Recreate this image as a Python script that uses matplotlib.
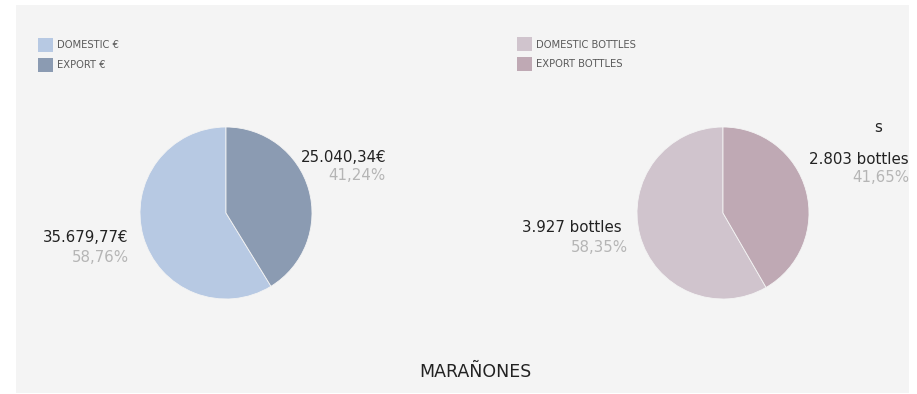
import matplotlib
matplotlib.use("Agg")
import matplotlib.pyplot as plt
from matplotlib.patches import Rectangle

plt.rcParams['font.family'] = ['DejaVu Sans']

# data
euro_labels = ["DOMESTIC €", "EXPORT €"]
euro_values = [35679.77, 25040.34]
euro_text = ["35.679,77€", "25.040,34€"]
euro_pct = ["58,76%", "41,24%"]
euro_colors = ["#b7c9e3", "#8b9bb2"]

bottle_labels = ["DOMESTIC BOTTLES", "EXPORT BOTTLES"]
bottle_values = [3927, 2803]
bottle_text = ["3.927 bottles", "2.803 bottles"]
bottle_pct = ["58,35%", "41,65%"]
bottle_colors = ["#d0c4cd", "#bfa9b4"]

title = "MARAÑONES"

W, H = 917, 394
fig = plt.figure(figsize=(W / 100, H / 100), dpi=100)
fig.patch.set_facecolor("white")


def px(x, y):
    # pixel (from top-left) -> figure fraction
    return x / W, 1 - y / H


# grey panel
fig.patches.append(Rectangle(px(16, 393), (909 - 16) / W, (393 - 5) / H,
                             transform=fig.transFigure, facecolor="#f4f4f4",
                             edgecolor="none", zorder=-1))

R = 86


def legend(x, y, labels, colors):
    # hand-drawn legend: coloured square + label per row
    for i, (lab, col) in enumerate(zip(labels, colors)):
        top = y + i * 19.5
        fig.patches.append(Rectangle(px(x, top + 14), 15 / W, 14 / H,
                                     transform=fig.transFigure,
                                     facecolor=col, edgecolor="none"))
        fig.text(*px(x + 19, top + 7.5), lab, ha="left", va="center",
                 fontsize=7.2, color="#5a5a5a")


def draw_pie(cx, cy, values, colors):
    ax = fig.add_axes([(cx - R) / W, (H - cy - R) / H, 2 * R / W, 2 * R / H])
    ax.pie(values, colors=colors, startangle=90,
           wedgeprops=dict(linewidth=0.6, edgecolor="#f4f4f4"))
    ax.set_xlim(-1, 1)
    ax.set_ylim(-1, 1)
    ax.set_aspect("equal")
    ax.axis("off")
    return ax


draw_pie(226, 213, euro_values, euro_colors)
draw_pie(723, 213, bottle_values, bottle_colors)
legend(38, 38, euro_labels, euro_colors)
legend(517, 37, bottle_labels, bottle_colors)

dark = "#222222"
grey = "#b5b5b5"
fs = 10.8

# euro pie labels
fig.text(*px(386, 158), euro_text[1], ha="right", va="center", color=dark, fontsize=fs)
fig.text(*px(386, 176), euro_pct[1], ha="right", va="center", color=grey, fontsize=fs)
fig.text(*px(128, 238), euro_text[0], ha="right", va="center", color=dark, fontsize=fs)
fig.text(*px(129, 257), euro_pct[0], ha="right", va="center", color=grey, fontsize=fs)

# bottle pie labels
fig.text(*px(878, 128), "s", ha="center", va="center", color=dark, fontsize=fs)
fig.text(*px(909, 160), bottle_text[1], ha="right", va="center", color=dark, fontsize=fs)
fig.text(*px(909, 178), bottle_pct[1], ha="right", va="center", color=grey, fontsize=fs)
fig.text(*px(622, 228), bottle_text[0], ha="right", va="center", color=dark, fontsize=fs)
fig.text(*px(628, 248), bottle_pct[0], ha="right", va="center", color=grey, fontsize=fs)

fig.text(*px(475, 372), title, ha="center", va="center", color=dark, fontsize=12.5)

fig.savefig("out.png", dpi=100)
